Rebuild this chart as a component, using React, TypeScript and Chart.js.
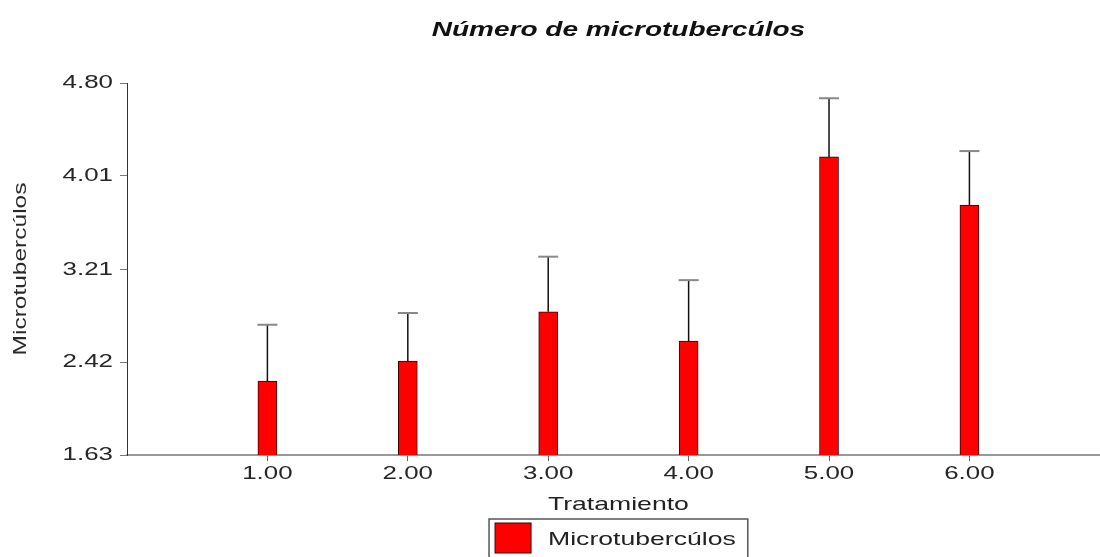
import React, { useEffect, useRef } from 'react';
import { Chart, registerables } from 'chart.js';

Chart.register(...registerables);

// ---- data ----
const treatments = [1, 2, 3, 4, 5, 6];
const means = [2.26, 2.43, 2.85, 2.6, 4.17, 3.76];
const errors = [0.48, 0.41, 0.47, 0.52, 0.5, 0.46];
const yTickValues = [1.63, 2.42, 3.21, 4.01, 4.8];
const xTickValues = [1, 2, 3, 4, 5, 6];
const titleText = 'Número de microtubercúlos';
const xTitleText = 'Tratamiento';
const yTitleText = 'Microtubercúlos';
const seriesLabel = 'Microtubercúlos';

const FONT = '"Liberation Sans", Arial, sans-serif';
const STRETCH = 1.4;

function drawText(
  ctx: CanvasRenderingContext2D,
  text: string,
  x: number,
  y: number,
  font: string,
  color: string,
  align: CanvasTextAlign,
  stretch: number,
  rotate = false
) {
  ctx.save();
  ctx.translate(x, y);
  if (rotate) ctx.rotate(-Math.PI / 2);
  ctx.scale(stretch, 1);
  ctx.font = font;
  ctx.fillStyle = color;
  ctx.textAlign = align;
  ctx.textBaseline = 'middle';
  ctx.fillText(text, 0, 0);
  ctx.restore();
}

const errorBarPlugin = {
  id: 'errorBars',
  afterDatasetsDraw(chart: any) {
    const ctx = chart.ctx as CanvasRenderingContext2D;
    const yScale = chart.scales.y;
    const meta = chart.getDatasetMeta(0);
    meta.data.forEach((bar: any, i: number) => {
      const x = bar.x;
      const yTop = yScale.getPixelForValue(means[i] + errors[i]);
      ctx.save();
      ctx.strokeStyle = '#111';
      ctx.lineWidth = 1.5;
      ctx.beginPath();
      ctx.moveTo(x, bar.y);
      ctx.lineTo(x, yTop);
      ctx.stroke();
      ctx.strokeStyle = '#888';
      ctx.lineWidth = 2;
      ctx.beginPath();
      ctx.moveTo(x - 10, yTop);
      ctx.lineTo(x + 10, yTop);
      ctx.stroke();
      ctx.restore();
    });
  },
};

const textPlugin = {
  id: 'texts',
  afterDraw(chart: any) {
    const ctx = chart.ctx as CanvasRenderingContext2D;
    const xScale = chart.scales.x;
    const yScale = chart.scales.y;
    const area = chart.chartArea;
    const cx = xScale.getPixelForValue(3.5);

    // y tick labels
    yScale.ticks.forEach((t: any) => {
      drawText(ctx, Number(t.value).toFixed(2), area.left - 14, yScale.getPixelForValue(t.value), `18.5px ${FONT}`, '#262626', 'right', STRETCH);
    });
    // x tick labels
    xScale.ticks.forEach((t: any) => {
      drawText(ctx, Number(t.value).toFixed(2), xScale.getPixelForValue(t.value), area.bottom + 19, `18.5px ${FONT}`, '#262626', 'center', STRETCH);
    });
    // titles
    drawText(ctx, titleText, cx, 30, `italic bold 20px ${FONT}`, '#111', 'center', STRETCH);
    drawText(ctx, xTitleText, cx, area.bottom + 50, `19px ${FONT}`, '#222', 'center', STRETCH);
    drawText(ctx, yTitleText, 21, (area.top + area.bottom) / 2, `17.5px ${FONT}`, '#2a2a2a', 'center', STRETCH, true);

    // legend
    ctx.save();
    ctx.font = `19px ${FONT}`;
    const tw = ctx.measureText(seriesLabel).width * STRETCH;
    ctx.restore();
    const boxW = 6 + 36 + 17 + tw + 12;
    const boxLeft = cx - boxW / 2;
    const boxTop = area.bottom + 64;
    ctx.save();
    ctx.strokeStyle = '#555';
    ctx.lineWidth = 1.5;
    ctx.strokeRect(boxLeft, boxTop, boxW, 60);
    ctx.fillStyle = '#ff0000';
    ctx.fillRect(boxLeft + 6, boxTop + 4, 36, 30);
    ctx.strokeStyle = '#3a0000';
    ctx.lineWidth = 1;
    ctx.strokeRect(boxLeft + 6, boxTop + 4, 36, 30);
    ctx.restore();
    drawText(ctx, seriesLabel, boxLeft + 59, boxTop + 21, `19px ${FONT}`, '#222', 'left', STRETCH);
  },
};

export default function App() {
  const canvasRef = useRef<HTMLCanvasElement | null>(null);

  useEffect(() => {
    if (!canvasRef.current) return;
    const chart = new Chart(canvasRef.current, {
      type: 'bar',
      data: {
        datasets: [
          {
            label: seriesLabel,
            data: treatments.map((t, i) => ({ x: t, y: means[i] })),
            backgroundColor: '#ff0000',
            borderColor: '#3a0000',
            borderWidth: 1,
            barThickness: 19,
          },
        ],
      },
      options: {
        animation: false,
        responsive: true,
        maintainAspectRatio: false,
        layout: { padding: { top: 83, left: 0, right: 0, bottom: 0 } },
        plugins: {
          legend: { display: false },
          title: { display: false },
          tooltip: { enabled: false },
        },
        scales: {
          x: {
            type: 'linear',
            min: 0,
            max: 6.93,
            offset: false,
            afterBuildTicks: (scale: any) => {
              scale.ticks = xTickValues.map((v) => ({ value: v }));
            },
            afterFit: (scale: any) => {
              scale.height = 102;
            },
            ticks: { display: false },
            grid: {
              display: true,
              offset: false,
              drawOnChartArea: false,
              drawTicks: true,
              tickLength: 6,
              color: '#666',
            },
            border: { display: true, color: '#999', width: 2 },
          },
          y: {
            min: 1.63,
            max: 4.8,
            afterBuildTicks: (scale: any) => {
              scale.ticks = yTickValues.map((v) => ({ value: v }));
            },
            afterFit: (scale: any) => {
              scale.width = 127;
            },
            ticks: { display: false },
            grid: {
              display: true,
              drawOnChartArea: false,
              drawTicks: true,
              tickLength: 7,
              color: '#777',
            },
            border: { display: true, color: '#333', width: 1 },
          },
        },
      } as any,
      plugins: [errorBarPlugin, textPlugin],
    });
    return () => chart.destroy();
  }, []);

  return (
    <div style={{ position: 'absolute', left: 0, top: 0, width: 1100, height: 557, background: '#fff', overflow: 'hidden' }}>
      <canvas ref={canvasRef} />
    </div>
  );
}
